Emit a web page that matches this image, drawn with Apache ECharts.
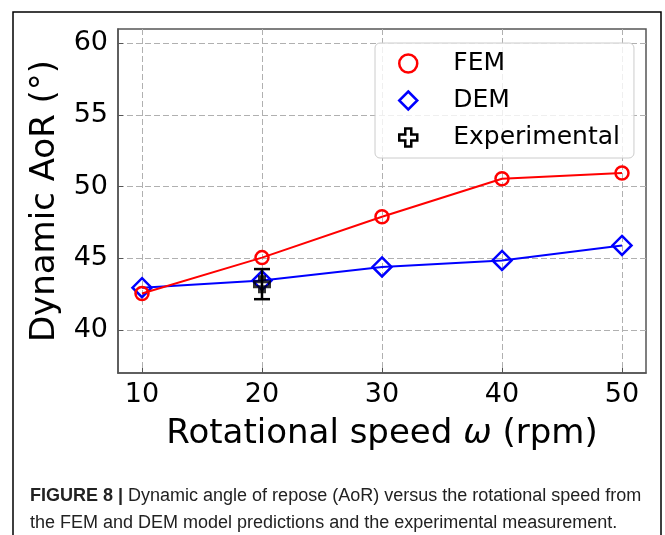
<!DOCTYPE html>
<html>
<head>
<meta charset="utf-8">
<script src="https://cdn.jsdelivr.net/npm/echarts@6/dist/echarts.min.js"></script>
<style>
  html, body { margin: 0; padding: 0; background: #fff; }
  #chart { width: 665px; height: 535px; }
</style>
</head>
<body>
<div id="chart"></div>
<script>
// data
const speeds = [10, 20, 30, 40, 50];
const femAoR = [42.55, 45.05, 47.9, 50.55, 50.95];
const demAoR = [42.95, 43.45, 44.4, 44.85, 45.9];
const expSpeed = [20];
const expAoR = [43.2];
const expErr = [1.05];
const xTicks = [10, 20, 30, 40, 50];
const yTicks = [40, 45, 50, 55, 60];

const font = 'DejaVu Sans';
const gridColor = '#b0b0b0';
const spineColor = '#555';

const chart = echarts.init(document.getElementById('chart'));

const plusPath = 'path://M2,0 L4,0 L4,2 L6,2 L6,4 L4,4 L4,6 L2,6 L2,4 L0,4 L0,2 L2,2 Z';

const option = {
    animation: false,
    backgroundColor: '#fff',
    title: {
        left: 30,
        top: 483,
        padding: 0,
        text: '{b|FIGURE 8 |} Dynamic angle of repose (AoR) versus the rotational speed from\nthe FEM and DEM model predictions and the experimental measurement.',
        textStyle: {
            fontFamily: 'Liberation Sans',
            fontSize: 18,
            fontWeight: 'normal',
            color: '#222',
            lineHeight: 27,
            rich: {
                b: { fontFamily: 'Liberation Sans', fontSize: 18, fontWeight: 'bold', color: '#222', lineHeight: 27 }
            }
        }
    },
    graphic: [{
        type: 'rect',
        shape: { x: 13, y: 12, width: 648, height: 540 },
        style: { fill: 'none', stroke: '#000', lineWidth: 1.5 },
        silent: true
    }],
    grid: {
        left: 118, top: 29, width: 528, height: 344,
        show: true, borderColor: spineColor, borderWidth: 1.5
    },
    legend: {
        orient: 'vertical',
        left: 375, top: 43,
        padding: [8, 14, 8, 23],
        itemGap: 12,
        itemWidth: 18,
        itemHeight: 18,
        itemTextGap: 5,
        backgroundColor: 'rgba(255,255,255,0.8)',
        borderColor: '#ccc',
        borderWidth: 1,
        borderRadius: 5,
        textStyle: { fontFamily: font, fontSize: 25, color: '#000', lineHeight: 25, padding: [0, 0, 0, 31] },
        data: [
            { name: 'FEM', icon: 'circle', itemStyle: { color: 'rgba(0,0,0,0)', borderColor: '#ff0000', borderWidth: 2.5 } },
            { name: 'DEM', icon: 'diamond', itemStyle: { color: 'rgba(0,0,0,0)', borderColor: '#0000ff', borderWidth: 2.5 } },
            { name: 'Experimental', icon: plusPath, itemStyle: { color: 'rgba(0,0,0,0)', borderColor: '#000', borderWidth: 2.5 } }
        ]
    },
    xAxis: {
        type: 'value',
        min: 8, max: 52,
        name: 'Rotational speed {i|\u03c9} (rpm)',
        nameLocation: 'middle',
        nameGap: 44,
        nameTextStyle: {
            fontFamily: font, fontSize: 34, color: '#000',
            rich: { i: { fontFamily: font, fontSize: 34, fontStyle: 'italic', color: '#000' } }
        },
        axisLine: { show: true, lineStyle: { color: spineColor, width: 1.5 } },
        axisTick: { show: true, inside: true, length: 5, customValues: xTicks, lineStyle: { color: spineColor } },
        axisLabel: { customValues: xTicks, fontFamily: font, fontSize: 27, color: '#000', margin: 8 },
        splitLine: { show: true, lineStyle: { color: gridColor, type: [6, 3], width: 1 } }
    },
    yAxis: {
        type: 'value',
        min: 37, max: 61,
        name: 'Dynamic AoR (\u00b0)',
        nameLocation: 'middle',
        nameGap: 56,
        nameTextStyle: { fontFamily: font, fontSize: 34, color: '#000' },
        axisLine: { show: true, lineStyle: { color: spineColor, width: 1.5 } },
        axisTick: { show: true, inside: true, length: 5, customValues: yTicks, lineStyle: { color: spineColor } },
        axisLabel: { customValues: yTicks, fontFamily: font, fontSize: 27, color: '#000', margin: 10 },
        splitLine: { show: true, lineStyle: { color: gridColor, type: [6, 3], width: 1 } }
    },
    series: [
        {
            name: 'DEM',
            type: 'line',
            data: speeds.map((s, i) => [s, demAoR[i]]),
            symbol: 'diamond',
            symbolSize: 19,
            lineStyle: { color: '#0000ff', width: 2 },
            itemStyle: { color: 'rgba(0,0,0,0)', borderColor: '#0000ff', borderWidth: 2.5 },
            z: 3
        },
        {
            name: 'FEM',
            type: 'line',
            data: speeds.map((s, i) => [s, femAoR[i]]),
            symbol: 'circle',
            symbolSize: 13,
            lineStyle: { color: '#ff0000', width: 2 },
            itemStyle: { color: 'rgba(0,0,0,0)', borderColor: '#ff0000', borderWidth: 2.5 },
            z: 4
        },
        {
            name: 'Experimental',
            type: 'custom',
            data: expSpeed.map((s, i) => [s, expAoR[i] - expErr[i], expAoR[i] + expErr[i]]),
            renderItem: function (params, api) {
                const lo = api.coord([api.value(0), api.value(1)]);
                const hi = api.coord([api.value(0), api.value(2)]);
                const cap = 8;
                const style = { stroke: '#000', lineWidth: 2.5 };
                return {
                    type: 'group',
                    children: [
                        { type: 'line', shape: { x1: lo[0], y1: lo[1], x2: hi[0], y2: hi[1] }, style: style },
                        { type: 'line', shape: { x1: lo[0] - cap, y1: lo[1], x2: lo[0] + cap, y2: lo[1] }, style: style },
                        { type: 'line', shape: { x1: hi[0] - cap, y1: hi[1], x2: hi[0] + cap, y2: hi[1] }, style: style }
                    ]
                };
            },
            itemStyle: { color: '#000' },
            z: 5
        },
        {
            name: 'Experimental',
            type: 'scatter',
            data: expSpeed.map((s, i) => [s, expAoR[i]]),
            symbol: plusPath,
            symbolSize: 15,
            itemStyle: { color: 'rgba(0,0,0,0)', borderColor: '#000', borderWidth: 3 },
            z: 6
        }
    ]
};

chart.setOption(option);
</script>
</body>
</html>
